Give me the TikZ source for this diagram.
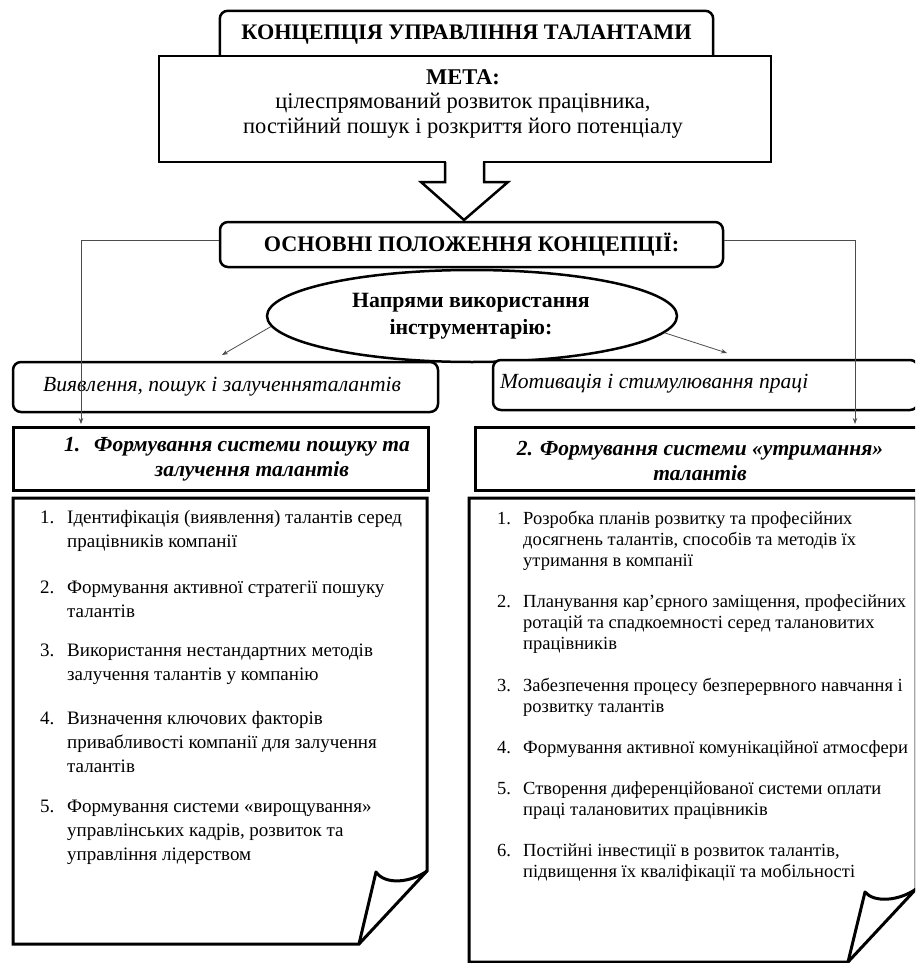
\documentclass[tikz,border=0pt]{standalone}
\usepackage{fontspec}
\setmainfont{Liberation Serif}
\usetikzlibrary{arrows.meta,shapes.geometric}
\begin{document}
\begin{tikzpicture}[x=1pt,y=-1pt,
  bx/.style={draw, line width=2.5pt, fill=white, inner sep=0pt},
  hbx/.style={draw, line width=3pt, fill=white, inner sep=0pt},
  txt/.style={inner sep=0pt, align=left, anchor=west},
  ctxt/.style={inner sep=0pt, align=center},
  conn/.style={draw=black!70, line width=0.8pt, -{Stealth[length=6pt,width=4.5pt]}},
  fold/.style={line width=3pt, line join=miter},
  bigf/.style={font=\bfseries\fontsize{22.2}{24}\selectfont},
  itf/.style={font=\itshape\fontsize{21.6}{24}\selectfont},
  hdf/.style={font=\bfseries\itshape\fontsize{21.5}{25}\selectfont},
  lstl/.style={txt, font=\fontsize{19}{24}\selectfont},
  lstr/.style={txt, font=\fontsize{18.5}{21}\selectfont}]
\useasboundingbox (0,0) rectangle (915,963);
\clip (0,0) rectangle (915,963);
\fill[white] (0,0) rectangle (915,963);

% title
\node[inner sep=0pt, minimum width=493pt, minimum height=48pt, bigf] (title) at (466.5,35) {КОНЦЕПЦІЯ УПРАВЛІННЯ ТАЛАНТАМИ};
\draw[line width=2.5pt, rounded corners=8pt] (title.south west) -- (title.north west) -- (title.north east) -- (title.south east);

% goal box
\node[bx, minimum width=612pt, minimum height=106pt] (meta) at (465,109) {};
\node[ctxt, font=\fontsize{22.5}{24.5}\selectfont] (metatext) at (463,104) {\textbf{МЕТА:}\\цілеспрямований розвиток працівника,\\постійний пошук і розкриття його потенціалу};

% block arrow
\fill[white] (446,156) rectangle (483,168);
\draw[line width=2.5pt, line join=miter] (445,162) -- (445,182) -- (421,182) -- (464,220) -- (508,182) -- (484,182) -- (484,162);

% main provisions
\node[bx, rounded corners=8pt, minimum width=503pt, minimum height=45pt, bigf] (osn) at (471.5,244.5) {ОСНОВНІ ПОЛОЖЕННЯ  КОНЦЕПЦІЇ:};

% ellipse
\node[bx, ellipse, minimum width=410pt, minimum height=92pt] (ell) at (472,316) {};
\node[ctxt, font=\bfseries\fontsize{21.8}{27}\selectfont] (elltext) at (471,316) {Напрями використання\\інструментарію:};

% direction boxes
\node[bx, rounded corners=8pt, minimum width=425pt, minimum height=50pt] (vy) at (225.5,387) {};
\node[txt, itf] (vytext) at (43,387) {Виявлення, пошук і залученняталантів};
\node[bx, rounded corners=8pt, minimum width=425pt, minimum height=50pt] (mo) at (705.5,385) {};
\node[txt, itf] (motext) at (500,384) {Мотивація і стимулювання праці};

% connectors
\coordinate (c1) at (81,424);
\coordinate (c2) at (855,424);
\coordinate (e1) at (222,355);
\coordinate (e2) at (727,353);
\draw[conn] ([yshift=4.5pt]osn.west) -| (c1);
\draw[conn] ([yshift=4.5pt]osn.east) -| (c2);
\draw[conn] (ell.183) -- (e1);
\draw[conn] (ell.-5) -- (e2);

% headings
\node[hbx, minimum width=415pt, minimum height=63pt] (h1) at (220.5,458.5) {};
\node[txt, hdf] (h1num) at (64,445) {1.};
\node[ctxt, hdf] (h1text) at (252,459.5) {Формування системи пошуку та\\залучення талантів};
\node[hbx, minimum width=443pt, minimum height=63pt] (h2) at (696.5,458.5) {};
\node[ctxt, hdf] (h2text) at (700,460.5) {2. Формування системи «утримання»\\талантів};

% list box 1
\draw[fold, fill=white] (13,498) -- (427,498) -- (427,871) -- (359,944) -- (13,944) -- cycle;
\draw[fold, line join=round] (359,944) -- (376,872) .. controls (385,885) and (410,883) .. (427,871);
\node[lstl] (l1) at (40,531) {\makebox[27pt][l]{1.}Ідентифікація (виявлення)  талантів серед\\\hspace*{27pt}працівників компанії};
\node[lstl] (l2) at (40,599) {\makebox[27pt][l]{2.}Формування активної стратегії пошуку\\\hspace*{27pt}талантів};
\node[lstl] (l3) at (40,664) {\makebox[27pt][l]{3.}Використання нестандартних методів\\\hspace*{27pt}залучення талантів у компанію};
\node[lstl] (l4) at (40,742) {\makebox[27pt][l]{4.}Визначення ключових факторів\\\hspace*{27pt}привабливості компанії для залучення\\\hspace*{27pt}талантів};
\node[lstl] (l5) at (40,832) {\makebox[27pt][l]{5.}Формування системи  «вирощування»\\\hspace*{27pt}управлінських кадрів, розвиток та\\\hspace*{27pt}управління лідерством};

% list box 2
\draw[fold, fill=white] (469,498) -- (916,498) -- (916,889) -- (848,962) -- (469,962) -- cycle;
\draw[fold, line join=round] (848,962) -- (865,892) .. controls (874,903) and (899,901) .. (916,889);
\node[lstr] (r1) at (497,540.7) {\makebox[26pt][l]{1.}Розробка планів розвитку  та професійних\\\hspace*{26pt}досягнень талантів, способів та методів їх\\\hspace*{26pt}утримання в компанії};
\node[lstr] (r2) at (497,624.3) {\makebox[26pt][l]{2.}Планування кар’єрного заміщення, професійних\\\hspace*{26pt}ротацій та спадкоемності серед талановитих\\\hspace*{26pt}працівників};
\node[lstr] (r3) at (497,697.5) {\makebox[26pt][l]{3.}Забезпечення процесу безперервного навчання і\\\hspace*{26pt}розвитку талантів};
\node[lstr] (r4) at (497,749) {\makebox[26pt][l]{4.}Формування активної комунікаційної  атмосфери};
\node[lstr] (r5) at (497,801) {\makebox[26pt][l]{5.}Створення диференційованої системи  оплати\\\hspace*{26pt}праці талановитих працівників};
\node[lstr] (r6) at (497,863) {\makebox[26pt][l]{6.}Постійні інвестиції  в розвиток талантів,\\\hspace*{26pt}підвищення їх кваліфікації  та мобільності};
\end{tikzpicture}
\end{document}
